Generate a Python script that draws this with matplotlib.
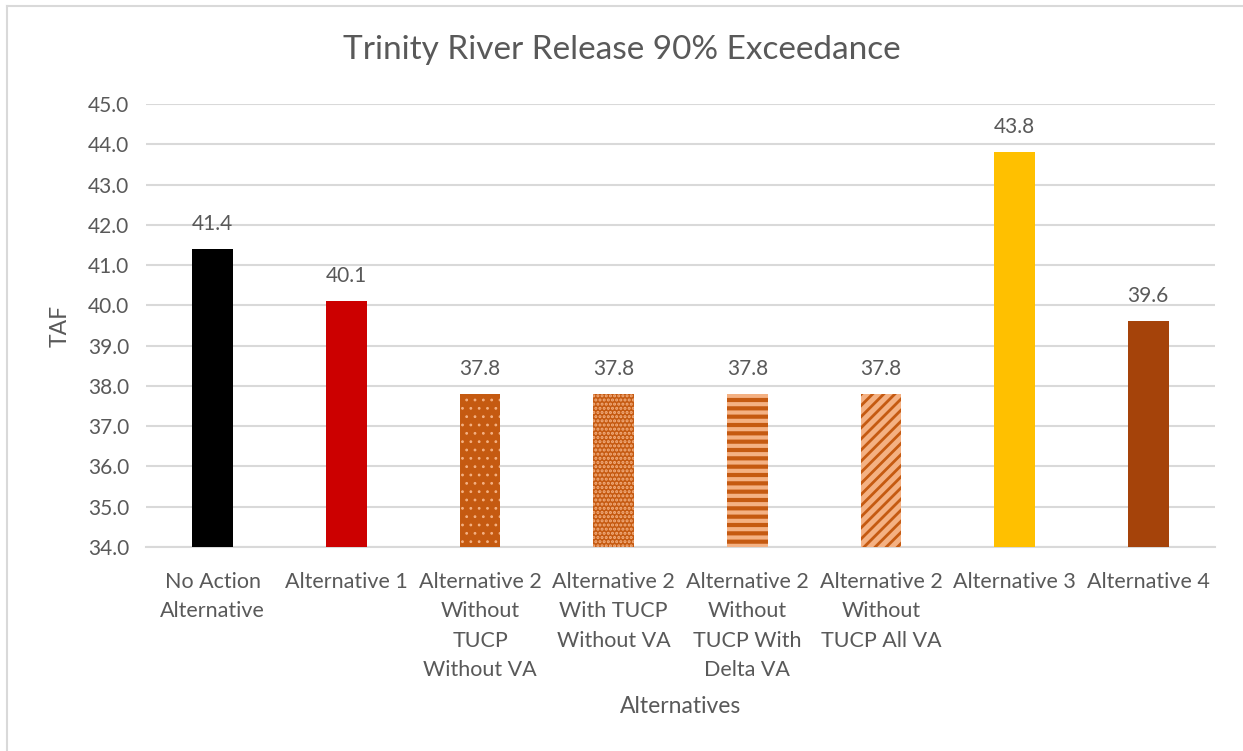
import matplotlib
matplotlib.use('Agg')
import matplotlib.pyplot as plt
from matplotlib.lines import Line2D

plt.rcParams['font.family'] = ['Lato', 'DejaVu Sans']

# data
categories = ['No Action\nAlternative', 'Alternative 1', 'Alternative 2\nWithout\nTUCP\nWithout VA',
              'Alternative 2\nWith TUCP\nWithout VA', 'Alternative 2\nWithout\nTUCP With\nDelta VA',
              'Alternative 2\nWithout\nTUCP All VA', 'Alternative 3', 'Alternative 4']
values = [41.4, 40.1, 37.8, 37.8, 37.8, 37.8, 43.8, 39.6]
yticks = [34.0, 35.0, 36.0, 37.0, 38.0, 39.0, 40.0, 41.0, 42.0, 43.0, 44.0, 45.0]

dark_or = '#C55A11'
light_or = '#F4B183'
faces = ['#000000', '#CC0000', dark_or, dark_or, dark_or, light_or, '#FFC000', '#A5430A']
hatch_cols = [None, None, light_or, light_or, light_or, dark_or, None, None]
hatches = [None, None, '..', '....', '--', '///', None, None]
hatch_lw = [1, 1, 0.8, 1.5, 3.0, 2.0, 1, 1]

txt = '#595959'
grid = '#D9D9D9'

fig = plt.figure(figsize=(12.43, 7.51), dpi=100)
ax = fig.add_axes([146 / 1243, 1 - 547 / 751, (1215 - 146) / 1243, (547 - 104) / 751])

x = range(len(categories))
for i in x:
    with plt.rc_context({'hatch.linewidth': hatch_lw[i]}):
        b = ax.bar(i, values[i] - 34.0, bottom=34.0, width=0.305, color=faces[i],
                   edgecolor=hatch_cols[i] if hatch_cols[i] else faces[i],
                   linewidth=0, hatch=hatches[i], zorder=3)
        for p in b:
            try:
                p.set_hatch_linewidth(hatch_lw[i])
            except AttributeError:
                pass
    ax.text(i, values[i] + 0.38, f'{values[i]:.1f}', ha='center', va='bottom',
            fontsize=15, color=txt, zorder=4)

ax.set_xlim(-0.5, len(categories) - 0.5)
ax.set_ylim(34.0, 45.0)
ax.set_yticks(yticks)
ax.set_yticklabels([f'{t:.1f}' for t in yticks])
ax.set_xticks(list(x))
ax.set_xticklabels(categories, linespacing=1.59)
ax.yaxis.grid(True, color=grid, linewidth=1.5, zorder=0)
ax.set_axisbelow(True)
for s in ['left', 'right', 'top']:
    ax.spines[s].set_visible(False)
ax.spines['bottom'].set_color(grid)
ax.spines['bottom'].set_linewidth(1.5)
ax.tick_params(axis='both', length=0, colors=txt, labelsize=15)
ax.tick_params(axis='x', pad=18, labelsize=15.5)
ax.tick_params(axis='y', pad=12)

ax.set_xlabel('Alternatives', fontsize=16.5, color=txt)
ax.xaxis.set_label_coords(0.5, -0.361)
ax.xaxis.label.set_va('center')
ax.set_ylabel('TAF', fontsize=16.5, color=txt)
ax.yaxis.set_label_coords(-0.080, 0.5)
ax.yaxis.label.set_va('center')

fig.text(0.5, 1 - 50 / 751, 'Trinity River Release 90% Exceedance', ha='center', va='center',
         fontsize=24, color=txt)

# chart frame (only left and top edges visible in the screenshot)
fig.add_artist(Line2D([7 / 1243, 7 / 1243], [0, 1 - 6 / 751], color=grid, linewidth=1.5))
fig.add_artist(Line2D([7 / 1243, 1], [1 - 6 / 751, 1 - 6 / 751], color=grid, linewidth=1.5))

fig.savefig('out.png', dpi=100)
